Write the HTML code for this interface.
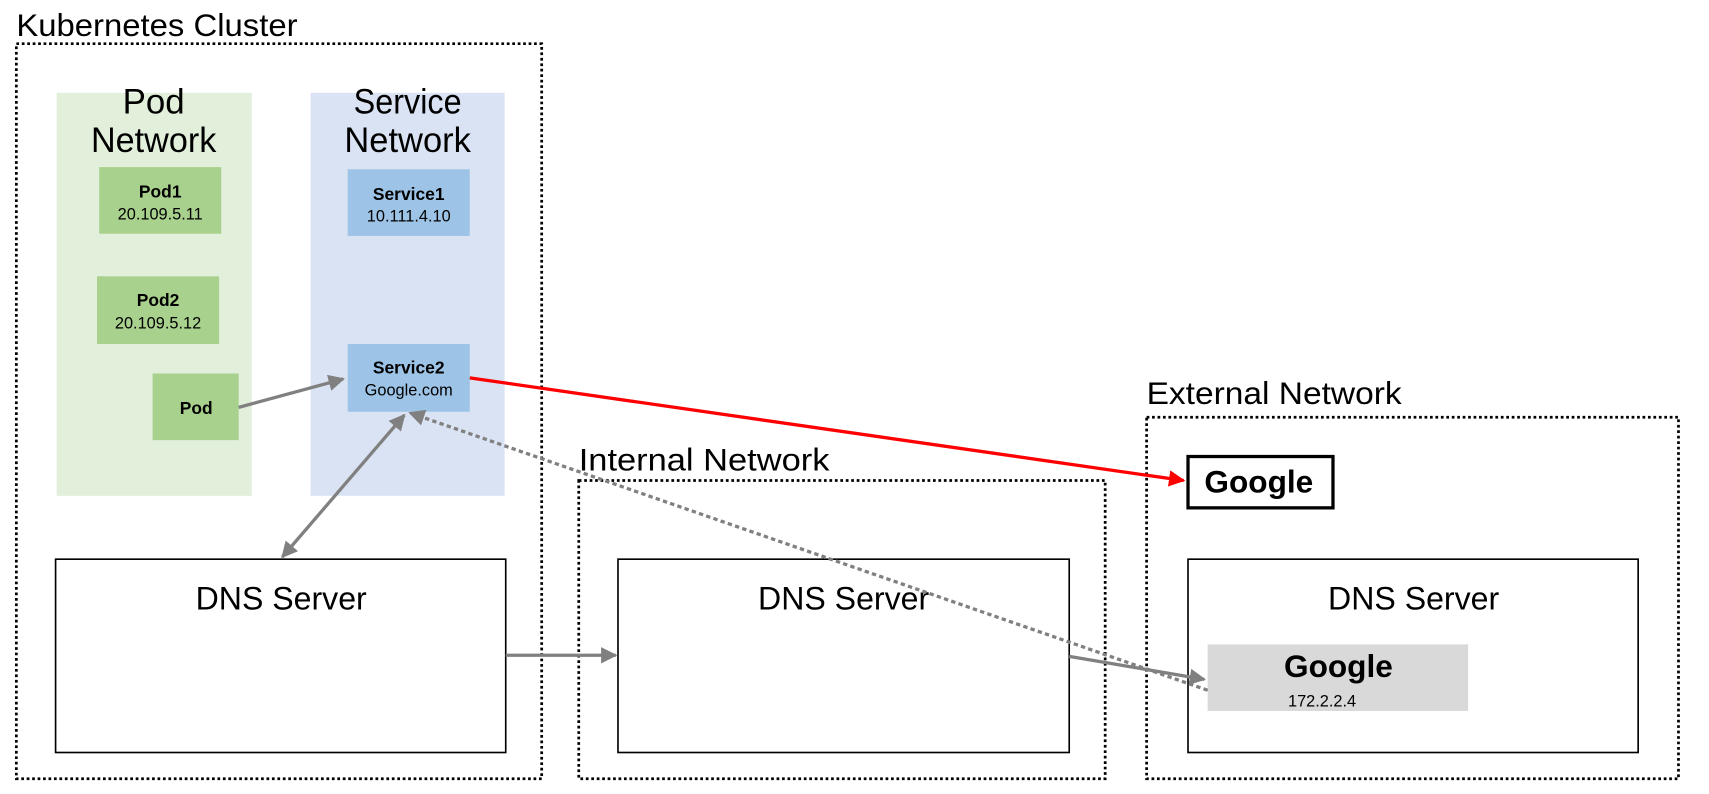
<!DOCTYPE html>
<html><head><meta charset="utf-8"><style>html,body{margin:0;padding:0;background:#fff}svg{display:block}</style></head>
<body>
<svg width="1709" height="794" viewBox="0 0 1568 727" preserveAspectRatio="none" xmlns="http://www.w3.org/2000/svg" font-family="Liberation Sans, sans-serif">
<defs>
<marker id="ag" viewBox="0 0 10 10" refX="9" refY="5" markerWidth="5" markerHeight="5" orient="auto-start-reverse"><path d="M0,0L10,5L0,10z" fill="#808080"/></marker>
<marker id="ar" viewBox="0 0 10 10" refX="9" refY="5" markerWidth="5" markerHeight="5" orient="auto"><path d="M0,0L10,5L0,10z" fill="#ff0000"/></marker>
</defs>
<g fill="none" stroke="#000" stroke-width="2.5" stroke-dasharray="2.5,2.5">
<rect x="15" y="40" width="482" height="673"/>
<rect x="531" y="440" width="483" height="273"/>
<rect x="1052" y="382" width="488" height="331"/>
</g>
<text x="15" y="33" font-size="29" textLength="258" lengthAdjust="spacingAndGlyphs">Kubernetes Cluster</text>
<text x="531" y="431" font-size="29" textLength="230" lengthAdjust="spacingAndGlyphs">Internal Network</text>
<text x="1052" y="370" font-size="29" textLength="234" lengthAdjust="spacingAndGlyphs">External Network</text>
<rect x="52" y="85" width="179" height="369" fill="#e2efda"/>
<rect x="285" y="85" width="178" height="369" fill="#dae3f3"/>
<g font-size="32" text-anchor="middle">
<text x="141" y="104">Pod</text><text x="141" y="139" textLength="115" lengthAdjust="spacingAndGlyphs">Network</text>
<text x="374" y="104" textLength="99" lengthAdjust="spacingAndGlyphs">Service</text><text x="374" y="139" textLength="116" lengthAdjust="spacingAndGlyphs">Network</text>
</g>
<rect x="91" y="153" width="112" height="61" fill="#a9d18e"/>
<rect x="89" y="253" width="112" height="62" fill="#a9d18e"/>
<rect x="140" y="342" width="79" height="61" fill="#a9d18e"/>
<rect x="319" y="155" width="112" height="61" fill="#9dc3e6"/>
<rect x="319" y="315" width="112" height="62" fill="#9dc3e6"/>
<g text-anchor="middle">
<text x="147" y="181" font-size="16" font-weight="bold">Pod1</text><text x="147" y="201" font-size="15">20.109.5.11</text>
<text x="145" y="280" font-size="16" font-weight="bold">Pod2</text><text x="145" y="301" font-size="15">20.109.5.12</text>
<text x="180" y="379" font-size="16" font-weight="bold">Pod</text>
<text x="375" y="183" font-size="16" font-weight="bold">Service1</text><text x="375" y="203" font-size="15">10.111.4.10</text>
<text x="375" y="342" font-size="16" font-weight="bold">Service2</text><text x="375" y="362" font-size="15">Google.com</text>
</g>
<g fill="#fff" stroke="#000" stroke-width="1.5">
<rect x="51" y="512" width="413" height="177"/>
<rect x="567" y="512" width="414" height="177"/>
<rect x="1090" y="512" width="413" height="177"/>
</g>
<g font-size="30" text-anchor="middle">
<text x="258" y="558" textLength="157" lengthAdjust="spacingAndGlyphs">DNS Server</text><text x="774" y="558" textLength="157" lengthAdjust="spacingAndGlyphs">DNS Server</text><text x="1297" y="558" textLength="157" lengthAdjust="spacingAndGlyphs">DNS Server</text>
</g>
<rect x="1108" y="590" width="239" height="61" fill="#d9d9d9"/>
<text x="1228" y="620" font-size="29" font-weight="bold" text-anchor="middle">Google</text>
<text x="1213" y="647" font-size="15" text-anchor="middle">172.2.2.4</text>
<rect x="1090" y="418" width="133" height="47" fill="#fff" stroke="#000" stroke-width="3"/>
<text x="1155" y="451" font-size="29" font-weight="bold" text-anchor="middle">Google</text>
<g stroke="#808080" stroke-width="3" fill="none">
<line x1="219" y1="373" x2="315" y2="347" marker-end="url(#ag)"/>
<line x1="371" y1="380" x2="259" y2="510" marker-start="url(#ag)" marker-end="url(#ag)"/>
<line x1="464" y1="600" x2="565" y2="600" marker-end="url(#ag)"/>
<line x1="981" y1="601" x2="1105" y2="622" marker-end="url(#ag)"/>
<line x1="1108" y1="632" x2="376" y2="378" stroke-dasharray="4,3" marker-end="url(#ag)"/>
</g>
<line x1="431" y1="346" x2="1086" y2="440" stroke="#ff0000" stroke-width="3" marker-end="url(#ar)"/>
</svg>
</body></html>
